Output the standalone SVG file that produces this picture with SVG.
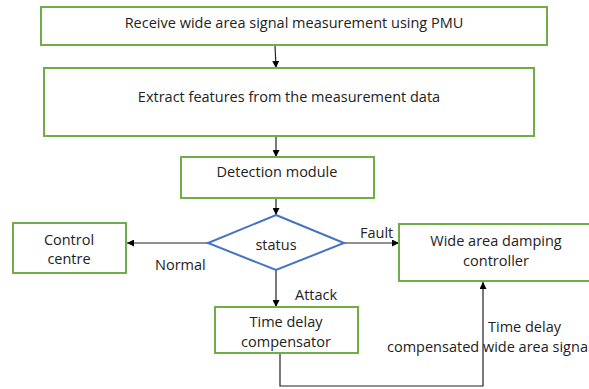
<svg xmlns="http://www.w3.org/2000/svg" width="589" height="389" viewBox="0 0 589 389">
<defs>
<marker id="ah" viewBox="0 0 10 10" refX="10" refY="5" markerWidth="7" markerHeight="7" markerUnits="userSpaceOnUse" orient="auto"><path d="M0,0 L10,5 L0,10 z" fill="#000"/></marker>
<style>
.box{fill:#fff;stroke:#70ad47;stroke-width:2}
.dia{fill:#fff;stroke:#4472c4;stroke-width:2}
.t{font-family:"Open Sans","Liberation Sans",Arial,sans-serif;font-size:14.5px;fill:#222;text-anchor:middle}
.ts{font-family:"Open Sans","Liberation Sans",Arial,sans-serif;font-size:14.5px;fill:#222}
.c{fill:none;stroke:#222;stroke-width:1.2}
</style>
</defs>
<rect width="589" height="389" fill="#fff"/>
<g id="connectors">
<line class="c" x1="275" y1="45" x2="276" y2="68" marker-end="url(#ah)"/>
<line class="c" x1="276" y1="136" x2="276" y2="157" marker-end="url(#ah)"/>
<line class="c" x1="276" y1="198" x2="276" y2="215" marker-end="url(#ah)"/>
<line class="c" x1="208" y1="243" x2="127" y2="243" marker-end="url(#ah)"/>
<line class="c" x1="344" y1="243" x2="399" y2="243" marker-end="url(#ah)"/>
<line class="c" x1="276" y1="270" x2="276" y2="307" marker-end="url(#ah)"/>
<polyline class="c" points="280,353 280,386 483,386 483,282" marker-end="url(#ah)"/>
<text class="ts" x="155" y="270">Normal</text>
<text class="ts" x="360" y="238">Fault</text>
<text class="ts" x="295" y="300">Attack</text>
<text class="ts" x="488" y="332">Time delay</text>
<text class="ts" x="387" y="352">compensated wide area signal</text>
</g>
<g id="n1"><rect class="box" x="41" y="7" width="506" height="38"/><text class="t" x="294" y="28">Receive wide area signal measurement using PMU</text></g>
<g id="n2"><rect class="box" x="44" y="68" width="490" height="68"/><text class="t" x="289" y="102">Extract features from the measurement data</text></g>
<g id="n3"><rect class="box" x="181" y="157" width="193" height="41"/><text class="t" x="277" y="177">Detection module</text></g>
<g id="n4"><polygon class="dia" points="276,215 344,243 276,270 208,243"/><text class="t" x="276" y="250">status</text></g>
<g id="n5"><rect class="box" x="13" y="223" width="113" height="50"/><text class="t" x="69" y="245">Control</text><text class="t" x="69" y="264">centre</text></g>
<g id="n6"><rect class="box" x="399" y="224" width="193" height="57"/><text class="t" x="496" y="246">Wide area damping</text><text class="t" x="496" y="266">controller</text></g>
<g id="n7"><rect class="box" x="215" y="307" width="143" height="46"/><text class="t" x="286" y="327">Time delay</text><text class="t" x="286" y="347">compensator</text></g>
</svg>
